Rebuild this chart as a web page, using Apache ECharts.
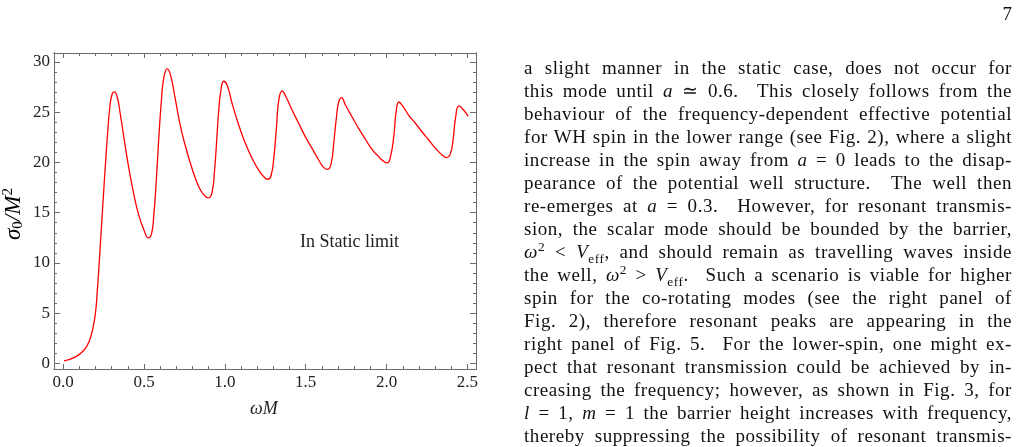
<!DOCTYPE html>
<html>
<head>
<meta charset="utf-8">
<script src="https://cdn.jsdelivr.net/npm/echarts@6/dist/echarts.min.js"></script>
<style>
  html, body { margin: 0; padding: 0; background: #fff; }
  #chart { position: absolute; left: 0; top: 0; width: 1020px; height: 447px; }
  #page { position: absolute; right: 8px; top: 3px; font: 19px 'Liberation Serif', serif; color: #111; }
  #text { position: absolute; left: 524px; top: 56px; width: 488px; font: 19px 'Liberation Serif', serif; letter-spacing: 0.55px; color: #111; }
  #text div { height: 23px; line-height: 23px; text-align: justify; text-align-last: justify; white-space: nowrap; }
  sup, sub { font-size: 0.7em; line-height: 0; }
</style>
</head>
<body>
<div id="chart"></div>
<div id="page">7</div>
<div id="text">
  <div>a slight manner in the static case, does not occur for</div>
  <div>this mode until <i>a</i> &#8771; 0.6. &nbsp;This closely follows from the</div>
  <div>behaviour of the frequency-dependent effective potential</div>
  <div>for WH spin in the lower range (see Fig. 2), where a slight</div>
  <div>increase in the spin away from <i>a</i> = 0 leads to the disap-</div>
  <div>pearance of the potential well structure. &nbsp;The well then</div>
  <div>re-emerges at <i>a</i> = 0.3. &nbsp;However, for resonant transmis-</div>
  <div>sion, the scalar mode should be bounded by the barrier,</div>
  <div><i>&omega;</i><sup>2</sup> &lt; <i>V</i><sub>eff</sub>, and should remain as travelling waves inside</div>
  <div>the well, <i>&omega;</i><sup>2</sup> &gt; <i>V</i><sub>eff</sub>. &nbsp;Such a scenario is viable for higher</div>
  <div>spin for the co-rotating modes (see the right panel of</div>
  <div>Fig. 2), therefore resonant peaks are appearing in the</div>
  <div>right panel of Fig. 5. &nbsp;For the lower-spin, one might ex-</div>
  <div>pect that resonant transmission could be achieved by in-</div>
  <div>creasing the frequency; however, as shown in Fig. 3, for</div>
  <div><i>l</i> = 1, <i>m</i> = 1 the barrier height increases with frequency,</div>
  <div>thereby suppressing the possibility of resonant transmis-</div>
</div>
<script>
// omega*M values
const omega = [
  0.005, 0.076, 0.128, 0.159, 0.183, 0.200, 0.212, 0.222, 0.235, 0.247,
  0.262, 0.276, 0.290, 0.303, 0.317, 0.334, 0.354, 0.375, 0.406, 0.437,
  0.468, 0.499, 0.526, 0.546, 0.560, 0.575, 0.591, 0.608, 0.622, 0.643,
  0.664, 0.694, 0.725, 0.756, 0.787, 0.818, 0.849, 0.880, 0.900, 0.921,
  0.936, 0.948, 0.962, 0.977, 0.993, 1.014, 1.045, 1.086, 1.127, 1.169,
  1.210, 1.245, 1.265, 1.286, 1.303, 1.319, 1.333, 1.354, 1.375, 1.416,
  1.457, 1.498, 1.540, 1.581, 1.612, 1.636, 1.657, 1.673, 1.690, 1.704,
  1.721, 1.746, 1.787, 1.828, 1.870, 1.911, 1.952, 1.973, 2.004, 2.024,
  2.045, 2.059, 2.076, 2.096, 2.137, 2.179, 2.220, 2.262, 2.304, 2.345,
  2.370, 2.395, 2.412, 2.426, 2.447, 2.472, 2.505
]
// sigma_0/M^2
const sigma = [
  0.26, 0.66, 1.32, 2.15, 3.48, 5.1, 7.5, 9.9, 13.2, 16.3,
  20.0, 23.2, 25.7, 26.8, 27.0, 26.5, 24.7, 22.5, 19.4, 16.8,
  14.7, 13.3, 12.5, 12.9, 14.7, 18.0, 22.4, 26.3, 28.4, 29.3,
  28.66, 26.2, 23.6, 21.6, 19.9, 18.4, 17.25, 16.6, 16.46, 17.06,
  19.21, 21.87, 25.18, 27.34, 28.06, 27.66, 25.84, 23.69, 21.87, 20.38,
  19.21, 18.49, 18.32, 18.72, 20.54, 23.52, 26.17, 27.1, 26.6, 25.18,
  23.86, 22.53, 21.37, 20.21, 19.48, 19.31, 19.88, 21.87, 24.51, 26.0,
  26.44, 25.68, 24.51, 23.36, 22.27, 21.27, 20.55, 20.22, 19.94, 20.54,
  22.69, 25.01, 26.0, 25.68, 24.68, 23.86, 23.02, 22.2, 21.37, 20.71,
  20.48, 20.87, 22.37, 24.35, 25.61, 25.28, 24.58
]

const xMajor = [0, 0.5, 1.0, 1.5, 2.0, 2.5]
const xMinor = [0.1, 0.2, 0.3, 0.4, 0.6, 0.7, 0.8, 0.9, 1.1, 1.2, 1.3, 1.4, 1.6, 1.7, 1.8, 1.9, 2.1, 2.2, 2.3, 2.4]
const yMajor = [0, 5, 10, 15, 20, 25, 30]
const yMinor = [1, 2, 3, 4, 6, 7, 8, 9, 11, 12, 13, 14, 16, 17, 18, 19, 21, 22, 23, 24, 26, 27, 28, 29]

const axisGray = '#6a6a6a'
const serif = 'Liberation Serif'

function mkX(pos, ticks, len, labels) {
  return {
    type: 'value', position: pos, min: -0.057, max: 2.553,
    axisLine: { show: true, onZero: false, lineStyle: { color: axisGray, width: 1 } },
    axisTick: { show: true, inside: true, length: len, customValues: ticks, lineStyle: { color: axisGray } },
    axisLabel: {
      show: labels, customValues: ticks, margin: 5,
      formatter: v => v.toFixed(1),
      fontFamily: serif, fontSize: 17, color: '#222'
    },
    splitLine: { show: false }
  }
}
function mkY(pos, ticks, len, labels) {
  return {
    type: 'value', position: pos, min: -0.54, max: 30.87,
    axisLine: { show: true, onZero: false, lineStyle: { color: axisGray, width: 1 } },
    axisTick: { show: true, inside: true, length: len, customValues: ticks, lineStyle: { color: axisGray } },
    axisLabel: {
      show: labels, customValues: ticks, margin: 4,
      formatter: v => String(v),
      fontFamily: serif, fontSize: 17, color: '#222'
    },
    splitLine: { show: false }
  }
}

const chart = echarts.init(document.getElementById('chart'))
chart.setOption({
  backgroundColor: '#fff',
  animation: false,
  grid: { left: 54, top: 53, right: 544, bottom: 78, containLabel: false },
  xAxis: [
    mkX('bottom', xMajor, 5, true),
    mkX('bottom', xMinor, 3, false),
    mkX('top', xMajor, 5, false),
    mkX('top', xMinor, 3, false)
  ],
  yAxis: [
    mkY('left', yMajor, 6, true),
    mkY('left', yMinor, 3, false),
    mkY('right', yMajor, 6, false),
    mkY('right', yMinor, 3, false)
  ],
  series: [{
    type: 'line',
    xAxisIndex: 0, yAxisIndex: 0,
    data: omega.map((w, i) => [w, sigma[i]]),
    showSymbol: false,
    smooth: 0.5,
    lineStyle: { color: '#ff0000', width: 1.3 }
  }],
  graphic: [
    {
      type: 'text', left: 300, top: 233,
      style: { text: 'In Static limit', font: '18px "Liberation Serif"', fill: '#222' }
    },
    {
      type: 'text', left: 250, top: 400,
      style: { text: 'ωM', font: 'italic 18px "Liberation Serif"', fill: '#222' }
    },
    {
      type: 'text', x: 1, y: 240, rotation: Math.PI / 2,
      style: {
        text: '{a|σ}{s|0}{a|/M}{p|2}',
        rich: {
          a: { fontFamily: serif, fontStyle: 'italic', fontSize: 23, color: '#222' },
          s: { fontFamily: serif, fontSize: 15, color: '#222', padding: [10, 0, 0, 0] },
          p: { fontFamily: serif, fontSize: 15, color: '#222', padding: [0, 0, 10, 0] }
        }
      }
    }
  ]
})
</script>
</body>
</html>
